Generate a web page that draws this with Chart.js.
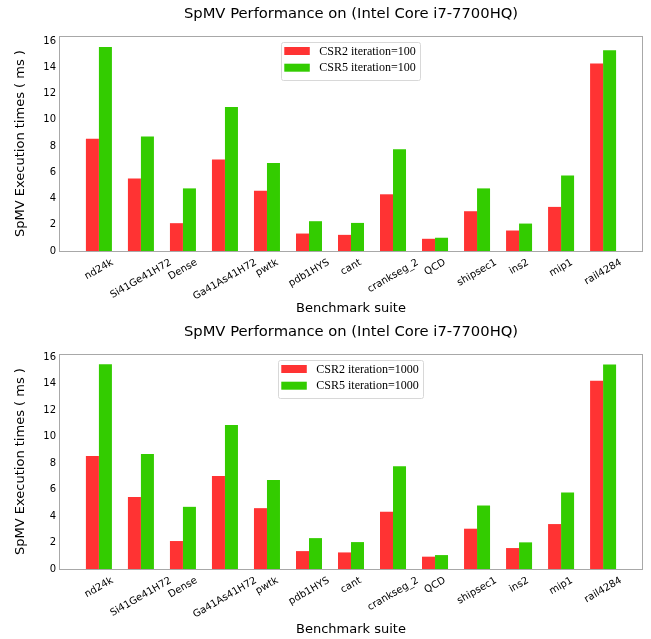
<!DOCTYPE html>
<html>
<head>
<meta charset="utf-8">
<script src="https://cdn.jsdelivr.net/npm/chart.js@4/dist/chart.umd.min.js"></script>
<style>
    body { margin: 0; background: #fff; }
    canvas { display: block; }
</style>
</head>
<body>
<canvas id="chart100" width="651" height="318"></canvas>
<canvas id="chart1000" width="651" height="321"></canvas>
<script>
// 資料
const benchmarks = ['nd24k', 'Si41Ge41H72', 'Dense', 'Ga41As41H72', 'pwtk', 'pdb1HYS', 'cant',
    'crankseg_2', 'QCD', 'shipsec1', 'ins2', 'mip1', 'rail4284'];
const csr2Iter100 = [8.56, 5.53, 2.12, 6.97, 4.59, 1.33, 1.23, 4.32, 0.93, 3.03, 1.56, 3.36, 14.29];
const csr5Iter100 = [15.55, 8.73, 4.77, 10.98, 6.71, 2.27, 2.14, 7.75, 1.01, 4.77, 2.09, 5.76, 15.30];
const csr2Iter1000 = [8.53, 5.44, 2.11, 7.02, 4.59, 1.35, 1.25, 4.32, 0.93, 3.04, 1.58, 3.39, 14.20];
const csr5Iter1000 = [15.45, 8.68, 4.69, 10.86, 6.72, 2.33, 2.03, 7.75, 1.05, 4.79, 2.01, 5.77, 15.43];
const yTicks = [0, 2, 4, 6, 8, 10, 12, 14, 16];

const chartTitle = 'SpMV Performance on (Intel Core i7-7700HQ)';
const RED = '#ff3333';
const GREEN = '#33cc00';
const TEXT = '#000';
const FONT = '"DejaVu Sans", sans-serif';

// 外框
const boxPlugin = {
    id: 'box',
    afterDraw(chart) {
        const { ctx, chartArea: a } = chart;
        ctx.save();
        ctx.strokeStyle = '#a8a8a8';
        ctx.lineWidth = 1;
        ctx.strokeRect(Math.round(a.left) + 0.5, Math.round(a.top) + 0.5,
            Math.round(a.right - a.left) - 1, Math.round(a.bottom - a.top));
        ctx.restore();
    }
};

// 標題置中於繪圖區上方
const titlePlugin = {
    id: 'axesTitle',
    afterDraw(chart, args, opts) {
        const { ctx, chartArea } = chart;
        ctx.save();
        ctx.font = '14.75px ' + FONT;
        ctx.fillStyle = TEXT;
        ctx.textAlign = 'center';
        ctx.textBaseline = 'alphabetic';
        ctx.fillText(opts.text, (chartArea.left + chartArea.right) / 2, opts.baseline);
        ctx.restore();
    }
};

// 旋轉的 x 軸標籤 (置中對齊)
const xLabelPlugin = {
    id: 'xLabels',
    afterDraw(chart) {
        const { ctx, chartArea, scales } = chart;
        const ang = 30 * Math.PI / 180;
        const h = 11;
        ctx.save();
        ctx.font = '10px ' + FONT;
        ctx.fillStyle = TEXT;
        ctx.textAlign = 'center';
        ctx.textBaseline = 'middle';
        benchmarks.forEach((name, i) => {
            const w = ctx.measureText(name).width;
            const bh = w * Math.sin(ang) + h * Math.cos(ang);
            const cx = scales.x.getPixelForValue(i);
            const cy = chartArea.bottom + 6 + bh / 2;
            ctx.save();
            ctx.translate(cx, cy);
            ctx.rotate(-ang);
            ctx.fillText(name, 0, 0);
            ctx.restore();
        });
        ctx.restore();
    }
};

// 圖例 (畫在圖內上方中間)
const legendPlugin = {
    id: 'innerLegend',
    afterDatasetsDraw(chart) {
        const { ctx, chartArea } = chart;
        const sets = chart.data.datasets;
        ctx.save();
        ctx.font = '12px "Liberation Serif", "Times New Roman", serif';
        const textW = Math.max(...sets.map(d => ctx.measureText(d.label).width));
        const boxW = 3 + 25.5 + 9.5 + textW + 5;
        const boxH = 37.6;
        const x0 = (chartArea.left + chartArea.right) / 2 - boxW / 2;
        const y0 = chartArea.top + 5.7;
        ctx.fillStyle = 'rgba(255,255,255,0.8)';
        ctx.strokeStyle = '#d8d8d8';
        ctx.lineWidth = 1;
        ctx.beginPath();
        ctx.roundRect(Math.round(x0) + 0.5, Math.round(y0) + 0.5, Math.round(boxW), Math.round(boxH), 2);
        ctx.fill();
        ctx.stroke();
        ctx.textBaseline = 'middle';
        sets.forEach((d, i) => {
            const cy = y0 + 9.3 + i * 16.7;
            ctx.fillStyle = d.backgroundColor;
            ctx.fillRect(x0 + 3, cy - 4, 25.5, 8);
            ctx.fillStyle = TEXT;
            ctx.fillText(d.label, x0 + 38, cy + 0.5);
        });
        ctx.restore();
    }
};

function makeChart(id, red, green, iter, yMax, xAxisHeight, xTitlePad, titleBaseline) {
    const ctx = document.getElementById(id);
    return new Chart(ctx, {
        type: 'bar',
        data: {
            datasets: [
                {
                    label: 'CSR2 iteration=' + iter,
                    data: red.map((v, i) => ({ x: i, y: v })),
                    backgroundColor: RED,
                    borderWidth: 0
                },
                {
                    label: 'CSR5 iteration=' + iter,
                    data: green.map((v, i) => ({ x: i, y: v })),
                    backgroundColor: GREEN,
                    borderWidth: 0
                }
            ]
        },
        options: {
            responsive: false,
            animation: false,
            devicePixelRatio: 1,
            categoryPercentage: 26 / 42,
            barPercentage: 1,
            layout: { padding: { left: 0, right: 8, top: 36, bottom: 0 } },
            plugins: {
                legend: { display: false },
                tooltip: { enabled: false },
                title: { display: false },
                axesTitle: { text: chartTitle, baseline: titleBaseline }
            },
            scales: {
                x: {
                    type: 'linear',
                    min: -0.95,
                    max: 12.95,
                    offset: false,
                    grid: { display: false, drawTicks: false },
                    border: { display: false },
                    ticks: { display: false },
                    afterBuildTicks: scale => { scale.ticks = benchmarks.map((_, i) => ({ value: i })); },
                    afterFit: scale => { scale.height = xAxisHeight; },
                    title: {
                        display: true,
                        text: 'Benchmark suite',
                        color: TEXT,
                        font: { family: FONT, size: 13 },
                        padding: { top: 0, bottom: xTitlePad }
                    }
                },
                y: {
                    min: 0,
                    max: yMax,
                    grid: { display: false, drawTicks: false },
                    border: { display: false },
                    afterBuildTicks: scale => { scale.ticks = yTicks.map(v => ({ value: v })); },
                    afterFit: scale => { scale.width = 59; },
                    ticks: {
                        color: TEXT,
                        padding: 3,
                        font: { family: FONT, size: 10 }
                    },
                    title: {
                        display: true,
                        text: 'SpMV Execution times ( ms )',
                        color: TEXT,
                        font: { family: FONT, size: 13 },
                        padding: { top: 13, bottom: 0 }
                    }
                }
            }
        },
        plugins: [boxPlugin, titlePlugin, xLabelPlugin, legendPlugin]
    });
}

makeChart('chart100', csr2Iter100, csr5Iter100, 100, 16.38, 67, 1.7, 18.3);
makeChart('chart1000', csr2Iter1000, csr5Iter1000, 1000, 16.22, 70, 1.2, 17.7);
</script>
</body>
</html>
